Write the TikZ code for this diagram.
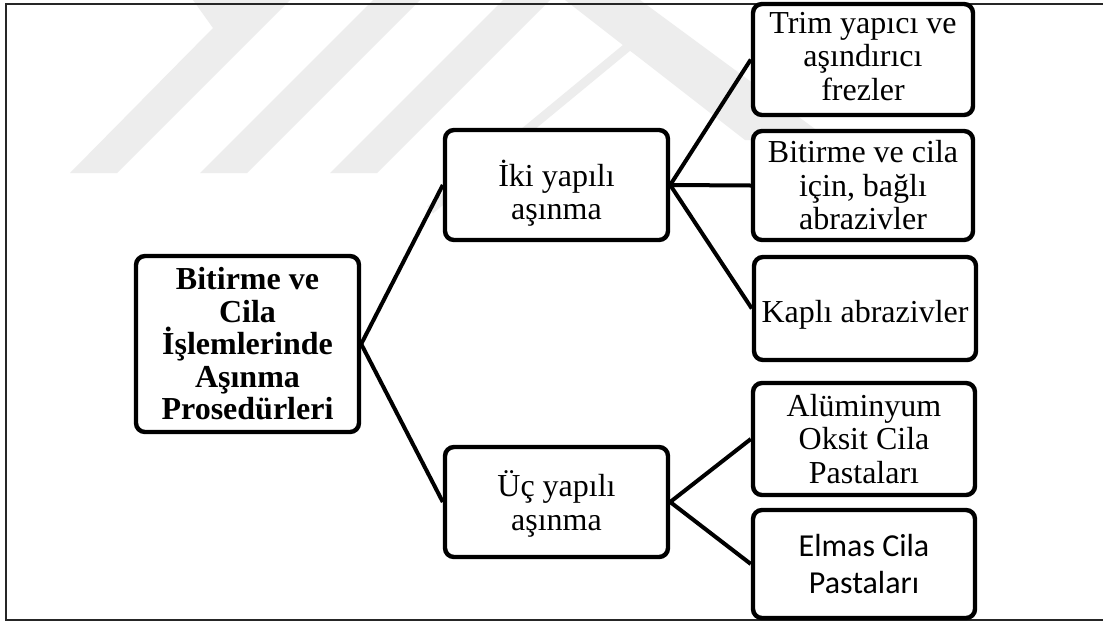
\documentclass[tikz,border=0pt]{standalone}
\usepackage{fontspec}
\setmainfont{Liberation Serif}
\newfontfamily\calibfont{Carlito}
\begin{document}
\begin{tikzpicture}[x=1pt,y=-1pt,
  box/.style={draw=black, line width=4.4pt, rounded corners=9pt, fill=white,
    inner sep=0pt},
  txt/.style={align=center, inner sep=0pt, font=\fontsize{32}{33.5}\selectfont},
  link/.style={line width=4pt, black},
  wm/.style={fill=black!7, draw=none}]
\useasboundingbox (0,0) rectangle (1103,622);
\fill[white] (0,0) rectangle (1103,622);
% faint watermark
\fill[wm] (70,173) -- (117,173) -- (290,0) -- (193,0) -- (213,28) -- cycle;
\fill[wm] (200,173) -- (247,173) -- (420,0) -- (373,0) -- cycle;
\fill[wm] (330,173) -- (377,173) -- (550,0) -- (503,0) -- cycle;
\fill[wm] (565,0) -- (640,0) -- (830,140) -- (745,140) -- cycle;
\draw[black!7, line width=9pt] (430,210) -- (630,45) -- (790,160);
% frame
\draw[line width=1.6pt, black!85] (1110,4) -- (6,4) -- (6,620) -- (1110,620);
% boxes
\node[box, minimum width=223pt, minimum height=176pt] (root) at (247.5,344) {};
\node[box, minimum width=223pt, minimum height=110pt] (iki) at (556.5,185) {};
\node[box, minimum width=223pt, minimum height=110pt] (uc) at (556.5,502) {};
\node[box, minimum width=220pt, minimum height=111pt] (trim) at (863,59.5) {};
\node[box, minimum width=220pt, minimum height=109pt] (bit) at (863,185.5) {};
\node[box, minimum width=222pt, minimum height=103pt] (kap) at (865,308.5) {};
\node[box, minimum width=222pt, minimum height=112pt] (alu) at (864,439) {};
\node[box, minimum width=222pt, minimum height=108pt] (elm) at (864,564) {};
% texts
\node[txt, font=\bfseries\fontsize{32}{32.5}\selectfont] (root-t) at (root.center)
  {Bitirme ve\\Cila\\İşlemlerinde\\Aşınma\\Prosedürleri};
\node[txt] (iki-t) at ([yshift=-8pt]iki.center) {İki yapılı\\aşınma};
\node[txt] (uc-t) at ([yshift=-2pt]uc.center) {Üç yapılı\\aşınma};
\node[txt] (trim-t) at ([yshift=3pt]trim.center) {Trim yapıcı ve\\aşındırıcı\\frezler};
\node[txt] (bit-t) at (bit.center) {Bitirme ve cila\\için, bağlı\\abrazivler};
\node[txt] (kap-t) at ([yshift=-6pt]kap.center) {Kaplı abrazivler};
\node[txt] (alu-t) at (alu.center) {Alüminyum\\Oksit Cila\\Pastaları};
\node[txt, font=\calibfont\fontsize{32}{37}\selectfont] (elm-t) at (elm.center)
  {Elmas Cila\\Pastaları};
% connectors
\draw[link] (root.east) -- (iki.west);
\draw[link] (root.east) -- (uc.west);
\draw[link] (iki.east) -- (trim.west);
\draw[link] (iki.east) -- (bit.west);
\draw[link] (iki.east) -- (kap.west);
\draw[link] (uc.east) -- (alu.west);
\draw[link] (uc.east) -- (elm.west);
\end{tikzpicture}
\end{document}
